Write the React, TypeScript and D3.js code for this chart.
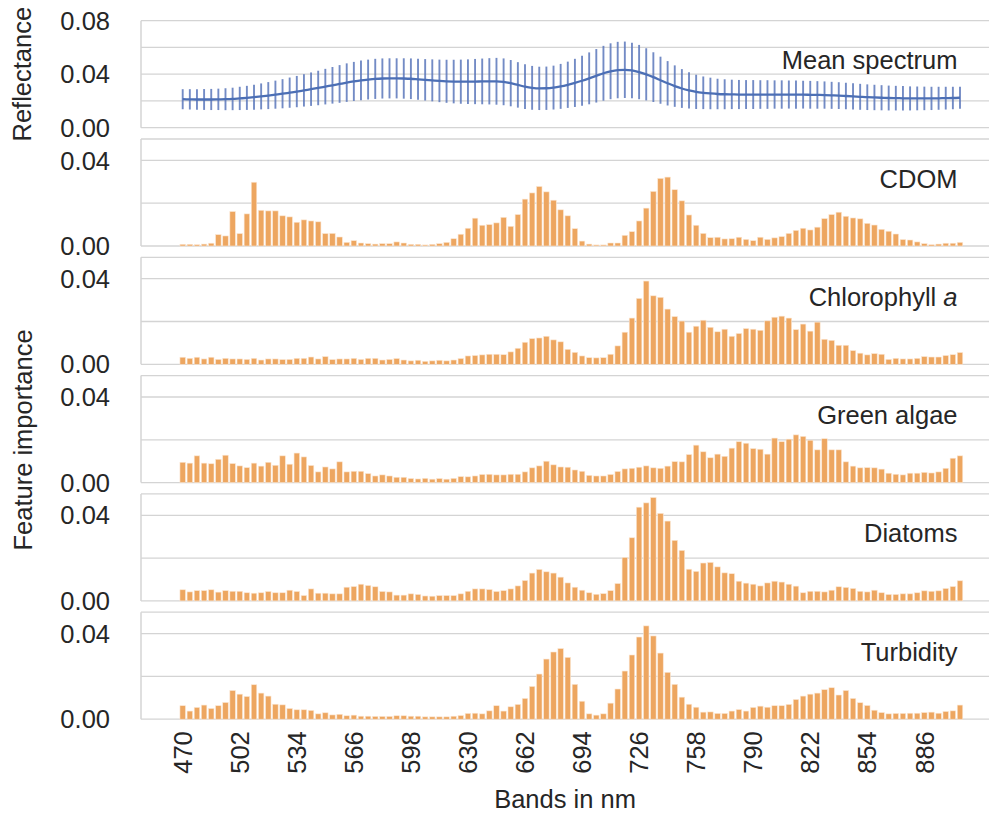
import React, { useEffect, useRef } from "react";
import * as d3 from "d3";

// bands 470..906 nm, 4 nm step
const bands: number[] = d3.range(470, 907, 4);
const tickBands = [470, 502, 534, 566, 598, 630, 662, 694, 726, 758, 790, 822, 854, 886];

const meanSpectrum = [
  0.0213, 0.0212, 0.0211, 0.0211, 0.0211, 0.0212, 0.0213, 0.0215,
  0.0219, 0.0223, 0.0228, 0.0234, 0.024, 0.0247, 0.0254, 0.0262, 0.027, 0.0279,
  0.0288, 0.0297, 0.0307, 0.0317, 0.0327, 0.0337, 0.0346, 0.0354, 0.036,
  0.0365, 0.0368, 0.0369, 0.0369, 0.0368, 0.0366,
  0.0362, 0.0358, 0.0354, 0.035, 0.0347, 0.0345, 0.0344, 0.0344, 0.0345, 0.0346, 0.0347, 0.0347, 0.0343,
  0.0333, 0.032, 0.0307, 0.0298, 0.0294, 0.0295, 0.03,
  0.0309, 0.0321, 0.0335, 0.0351, 0.0369, 0.0388, 0.0407, 0.0422, 0.0431, 0.0433,
  0.0428, 0.0416, 0.0399, 0.0378, 0.0355, 0.0332, 0.0311, 0.0293, 0.0279, 0.0268, 0.0261,
  0.0256, 0.0252, 0.025, 0.0249, 0.0248, 0.0248, 0.0248, 0.0248, 0.0248, 0.0248, 0.0248, 0.0248, 0.0247, 0.0247, 0.0246, 0.0245, 0.0244, 0.0242, 0.024,
  0.0237, 0.0234, 0.0231, 0.0228, 0.0226, 0.0224, 0.0222, 0.0221, 0.022, 0.0219, 0.0219, 0.0219, 0.0219, 0.022, 0.0221, 0.0222, 0.0224,
];

const stdSpectrum = [
  0.0075, 0.0076, 0.0077, 0.0078, 0.0079, 0.008, 0.0082, 0.0084, 0.0087, 0.009, 0.0093,
  0.0097, 0.0101, 0.0105, 0.0109, 0.0113, 0.0117, 0.0121, 0.0125, 0.0129, 0.0133,
  0.0137, 0.0141, 0.0144, 0.0146, 0.0148, 0.0149, 0.015, 0.015, 0.015, 0.015,
  0.0151, 0.0152, 0.0153, 0.0155, 0.0157, 0.0159, 0.0161, 0.0163, 0.0165, 0.0167, 0.0169, 0.0171, 0.0173, 0.0175, 0.0175,
  0.0173, 0.017, 0.0167, 0.0164, 0.0162, 0.0162, 0.0164, 0.0168, 0.0173, 0.018,
  0.0187, 0.0194, 0.02, 0.0205, 0.0209, 0.0211, 0.0211, 0.0208, 0.0203, 0.0195,
  0.0186, 0.0176, 0.0166, 0.0155, 0.0145, 0.0136, 0.0128, 0.0122, 0.0118, 0.0114,
  0.0112, 0.011, 0.0109, 0.0108, 0.0108, 0.0107, 0.0107, 0.0106, 0.0106, 0.0105, 0.0105, 0.0104, 0.0104, 0.0103, 0.0102, 0.0101, 0.01,
  0.0099, 0.0098, 0.0097, 0.0096, 0.0095, 0.0094, 0.0093, 0.0092, 0.0091, 0.009, 0.0089, 0.0088, 0.0087, 0.0086, 0.0085, 0.0084, 0.0083,
];

const cdom = [
  0.0008, 0.0008, 0.0006, 0.0009, 0.0013, 0.0053, 0.0047, 0.0161, 0.0058, 0.015,
  0.0298, 0.0167, 0.0164, 0.0164, 0.0141, 0.0136, 0.0111, 0.0122, 0.0117, 0.0113,
  0.0058, 0.0059, 0.0042, 0.0017, 0.0025, 0.0014, 0.0011, 0.0009, 0.0011, 0.0011,
  0.0019, 0.0014, 0.0008, 0.0008, 0.0005, 0.0008, 0.0011, 0.0017, 0.0034, 0.0055,
  0.0083, 0.013, 0.0097, 0.01, 0.0108, 0.0134, 0.0092, 0.0147, 0.0219, 0.0248,
  0.0278, 0.0253, 0.0214, 0.0169, 0.0141, 0.0081, 0.0023, 0.0009, 0.0005, 0.0005,
  0.0014, 0.0014, 0.005, 0.0067, 0.0117, 0.0177, 0.0255, 0.0316, 0.0322, 0.0263,
  0.0211, 0.0145, 0.0097, 0.0059, 0.0039, 0.0041, 0.0033, 0.0034, 0.0041, 0.0031,
  0.0025, 0.0041, 0.0031, 0.0038, 0.0044, 0.0059, 0.0073, 0.0083, 0.0075, 0.0088,
  0.0128, 0.0147, 0.0158, 0.0139, 0.0131, 0.0127, 0.0106, 0.0098, 0.0078, 0.0069,
  0.0056, 0.003, 0.0028, 0.0019, 0.0011, 0.0006, 0.0009, 0.0013, 0.0013, 0.0017,
];

const chlorophyll = [
  0.0033, 0.0028, 0.0033, 0.0025, 0.0033, 0.0023, 0.0028, 0.0025, 0.0025, 0.0023,
  0.0028, 0.002, 0.0025, 0.0025, 0.0022, 0.0023, 0.0028, 0.0028, 0.0034, 0.0025,
  0.0036, 0.0022, 0.0025, 0.0025, 0.0028, 0.0023, 0.0028, 0.0028, 0.002, 0.0023,
  0.0027, 0.002, 0.0016, 0.0019, 0.0014, 0.0016, 0.0019, 0.0016, 0.002, 0.0027,
  0.0039, 0.0041, 0.0044, 0.0047, 0.0047, 0.0045, 0.0058, 0.0075, 0.0103, 0.012,
  0.0123, 0.0131, 0.0114, 0.0105, 0.007, 0.0056, 0.0039, 0.0031, 0.003, 0.0031,
  0.0047, 0.0086, 0.015, 0.0216, 0.0308, 0.0389, 0.032, 0.0313, 0.0258, 0.0223,
  0.0202, 0.015, 0.0178, 0.0206, 0.0173, 0.0152, 0.0164, 0.0131, 0.0144, 0.0167,
  0.0164, 0.0159, 0.0203, 0.022, 0.0225, 0.0216, 0.0162, 0.0188, 0.0155, 0.0197,
  0.0117, 0.0112, 0.0089, 0.0089, 0.0064, 0.0052, 0.0044, 0.005, 0.0047, 0.0023,
  0.0028, 0.0025, 0.0025, 0.0028, 0.0036, 0.0034, 0.0034, 0.0041, 0.0045, 0.0055,
];

const greenAlgae = [
  0.0095, 0.0091, 0.0125, 0.0091, 0.0088, 0.0109, 0.0128, 0.0089, 0.0078, 0.007,
  0.0091, 0.0077, 0.0095, 0.0081, 0.0125, 0.0086, 0.0138, 0.012, 0.008, 0.005,
  0.0073, 0.0064, 0.0097, 0.005, 0.0053, 0.0053, 0.0042, 0.0031, 0.0036, 0.0031,
  0.0025, 0.0025, 0.0019, 0.0017, 0.002, 0.0016, 0.0019, 0.0016, 0.002, 0.0028,
  0.0027, 0.0031, 0.0038, 0.0039, 0.0036, 0.0036, 0.0039, 0.0039, 0.005, 0.0069,
  0.0078, 0.01, 0.0083, 0.0073, 0.0072, 0.0059, 0.0053, 0.0034, 0.0031, 0.0031,
  0.0038, 0.0052, 0.0064, 0.0067, 0.0072, 0.0078, 0.0069, 0.0067, 0.0077, 0.0098,
  0.0097, 0.0131, 0.0175, 0.0144, 0.0116, 0.0133, 0.0123, 0.0161, 0.0191, 0.0184,
  0.0159, 0.0156, 0.0133, 0.0208, 0.0191, 0.0203, 0.0223, 0.0216, 0.0198, 0.0153,
  0.0205, 0.0153, 0.0153, 0.0097, 0.0077, 0.0069, 0.007, 0.0069, 0.0063, 0.0044,
  0.0039, 0.0036, 0.0044, 0.0044, 0.0048, 0.0045, 0.005, 0.0067, 0.0114, 0.0125,
];

const diatoms = [
  0.0052, 0.0042, 0.0048, 0.0048, 0.0052, 0.0041, 0.0048, 0.0045, 0.0045, 0.0038,
  0.0036, 0.0038, 0.0044, 0.0038, 0.0038, 0.005, 0.0044, 0.0025, 0.0056, 0.0036,
  0.0036, 0.0033, 0.0033, 0.0064, 0.0067, 0.0078, 0.0072, 0.0066, 0.0044, 0.0042,
  0.0027, 0.0027, 0.0033, 0.003, 0.0023, 0.0022, 0.0025, 0.0025, 0.0025, 0.0033,
  0.0045, 0.0056, 0.0056, 0.0053, 0.0044, 0.0048, 0.0056, 0.007, 0.0095, 0.013,
  0.0147, 0.0136, 0.013, 0.0111, 0.0084, 0.0064, 0.005, 0.0038, 0.0031, 0.0034,
  0.0048, 0.0081, 0.0203, 0.0295, 0.0438, 0.0458, 0.0483, 0.0409, 0.0373, 0.0283,
  0.0236, 0.0148, 0.0138, 0.0177, 0.018, 0.0159, 0.0131, 0.0127, 0.0092, 0.0083,
  0.0078, 0.007, 0.0084, 0.0092, 0.0088, 0.0078, 0.0069, 0.0038, 0.0045, 0.0045,
  0.0042, 0.005, 0.0066, 0.0063, 0.0058, 0.0045, 0.0042, 0.005, 0.0038, 0.003,
  0.003, 0.0033, 0.0033, 0.0038, 0.0047, 0.0045, 0.0047, 0.0058, 0.0067, 0.0094,
];

const turbidity = [
  0.0063, 0.0038, 0.0055, 0.0066, 0.005, 0.0063, 0.0078, 0.0134, 0.0117, 0.0106,
  0.0161, 0.0122, 0.0108, 0.007, 0.0067, 0.005, 0.0044, 0.0044, 0.0041, 0.0025,
  0.003, 0.002, 0.0023, 0.0016, 0.0019, 0.0014, 0.0014, 0.0013, 0.0013, 0.0013,
  0.0016, 0.0016, 0.0014, 0.0014, 0.0011, 0.0011, 0.0011, 0.0011, 0.0014, 0.0017,
  0.0027, 0.0028, 0.0025, 0.0039, 0.0063, 0.0038, 0.0058, 0.0069, 0.0097, 0.0153,
  0.0211, 0.0281, 0.0314, 0.033, 0.0289, 0.0163, 0.0084, 0.0025, 0.0019, 0.0025,
  0.0075, 0.0141, 0.0225, 0.03, 0.0384, 0.0436, 0.0389, 0.0309, 0.0219, 0.0163,
  0.0103, 0.007, 0.0056, 0.0033, 0.0034, 0.0027, 0.0027, 0.0038, 0.0045, 0.0038,
  0.0055, 0.0061, 0.0056, 0.0063, 0.0063, 0.0069, 0.0092, 0.0108, 0.0117, 0.0122,
  0.0138, 0.0147, 0.0113, 0.0134, 0.0097, 0.0077, 0.0064, 0.0042, 0.0031, 0.0025,
  0.0027, 0.0027, 0.0028, 0.0028, 0.0031, 0.0033, 0.0028, 0.0036, 0.0039, 0.0066,
];

const barPanels = [
  { name: "CDOM", values: cdom },
  { name: "Chlorophyll", values: chlorophyll, italic: "a" },
  { name: "Green algae", values: greenAlgae },
  { name: "Diatoms", values: diatoms },
  { name: "Turbidity", values: turbidity },
];

const FONT = "'Liberation Sans', Arial, sans-serif";
const FS = 25.5;

export default function App() {
  const ref = useRef<SVGSVGElement>(null);

  useEffect(() => {
    const width = 991,
      height = 814;
    const left = 141,
      right = 989,
      firstTop = 20.7,
      panelH = 107,
      panelStep = 118.3;

    const svg = d3.select(ref.current).attr("width", width).attr("height", height);
    svg.selectAll("*").remove();

    const x = d3
      .scaleLinear()
      .domain([0, bands.length - 1])
      .range([182.7, 960]);

    const drawFrame = (g: any, y: any, gridVals: number[], labelVals: number[], top: number) => {
      g.selectAll(".grid")
        .data(gridVals)
        .join("line")
        .attr("class", "grid")
        .attr("x1", left)
        .attr("x2", right)
        .attr("y1", (d: number) => y(d))
        .attr("y2", (d: number) => y(d))
        .attr("stroke", "#d4d4d4")
        .attr("stroke-width", 1.3);
      // top spine
      g.append("line")
        .attr("x1", left)
        .attr("x2", right)
        .attr("y1", top)
        .attr("y2", top)
        .attr("stroke", "#d4d4d4")
        .attr("stroke-width", 1.3);
      // left spine
      g.append("line")
        .attr("x1", left)
        .attr("x2", left)
        .attr("y1", top)
        .attr("y2", top + panelH)
        .attr("stroke", "#d4d4d4")
        .attr("stroke-width", 1.5);
      g.selectAll(".ylab")
        .data(labelVals)
        .join("text")
        .attr("class", "ylab")
        .attr("x", 110)
        .attr("y", (d: number) => y(d))
        .attr("dy", "0.36em")
        .attr("text-anchor", "end")
        .attr("font-family", FONT)
        .attr("font-size", FS)
        .attr("fill", "#262626")
        .text((d: number) => d.toFixed(2));
    };

    // PANEL 1: mean spectrum with error bars
    const p1 = svg.append("g");
    const y1 = d3
      .scaleLinear()
      .domain([0, 0.08])
      .range([firstTop + panelH, firstTop]);
    drawFrame(p1, y1, [0, 0.02, 0.04, 0.06], [0, 0.04, 0.08], firstTop);

    p1.selectAll(".err")
      .data(meanSpectrum)
      .join("line")
      .attr("class", "err")
      .attr("x1", (_d, i) => x(i))
      .attr("x2", (_d, i) => x(i))
      .attr("y1", (d, i) => y1(d - stdSpectrum[i]))
      .attr("y2", (d, i) => y1(d + stdSpectrum[i]))
      .attr("stroke", "#5a77bb")
      .attr("stroke-opacity", 0.85)
      .attr("stroke-width", 1.9);

    const line = d3
      .line<number>()
      .x((_d, i) => x(i))
      .y((d) => y1(d))
      .curve(d3.curveMonotoneX);
    p1.append("path")
      .attr("d", line(meanSpectrum))
      .attr("fill", "none")
      .attr("stroke", "#4c6fb5")
      .attr("stroke-width", 2.3);

    p1.append("text")
      .attr("x", 957.5)
      .attr("y", firstTop + 48.5)
      .attr("text-anchor", "end")
      .attr("font-family", FONT)
      .attr("font-size", FS)
      .attr("fill", "#262626")
      .text("Mean spectrum");

    // BAR PANELS
    barPanels.forEach((p, k) => {
      const top = firstTop + panelStep * (k + 1);
      const g = svg.append("g");
      const y = d3
        .scaleLinear()
        .domain([0, 0.05])
        .range([top + panelH, top]);
      drawFrame(g, y, [0, 0.02, 0.04], [0, 0.04], top);

      const bw = 5.5;
      g.selectAll(".bar")
        .data(p.values)
        .join("rect")
        .attr("class", "bar")
        .attr("x", (_d, i) => x(i) - bw / 2)
        .attr("y", (d) => y(d))
        .attr("width", bw)
        .attr("height", (d) => y(0) - y(d))
        .attr("fill", "#eda660")
        .attr("stroke", "#fbe6d2")
        .attr("stroke-width", 0.6);

      const t = g
        .append("text")
        .attr("x", 957.5)
        .attr("y", top + 48.5)
        .attr("text-anchor", "end")
        .attr("font-family", FONT)
        .attr("font-size", FS)
        .attr("fill", "#262626");
      t.append("tspan").text(p.name);
      if (p.italic) t.append("tspan").attr("font-style", "italic").text(" " + p.italic);
    });

    // X tick labels (rotated)
    const bottom = firstTop + panelStep * 5 + panelH;
    svg
      .selectAll(".xlab")
      .data(tickBands)
      .join("text")
      .attr("class", "xlab")
      .attr("transform", (d) => `translate(${x(bands.indexOf(d))},${bottom + 12}) rotate(-90)`)
      .attr("text-anchor", "end")
      .attr("dy", "0.36em")
      .attr("font-family", FONT)
      .attr("font-size", FS)
      .attr("fill", "#262626")
      .text((d) => d);

    // axis titles
    svg
      .append("text")
      .attr("x", (left + right) / 2)
      .attr("y", 808)
      .attr("text-anchor", "middle")
      .attr("font-family", FONT)
      .attr("font-size", FS)
      .attr("fill", "#262626")
      .text("Bands in nm");

    svg
      .append("text")
      .attr("transform", `translate(31,${firstTop + panelH / 2}) rotate(-90)`)
      .attr("text-anchor", "middle")
      .attr("font-family", FONT)
      .attr("font-size", FS)
      .attr("fill", "#262626")
      .text("Reflectance");

    svg
      .append("text")
      .attr("transform", `translate(32,440) rotate(-90)`)
      .attr("text-anchor", "middle")
      .attr("font-family", FONT)
      .attr("font-size", FS)
      .attr("fill", "#262626")
      .text("Feature importance");
  }, []);

  return (
    <div>
      <svg ref={ref} style={{ position: "absolute", left: 0, top: 0 }}></svg>
    </div>
  );
}
